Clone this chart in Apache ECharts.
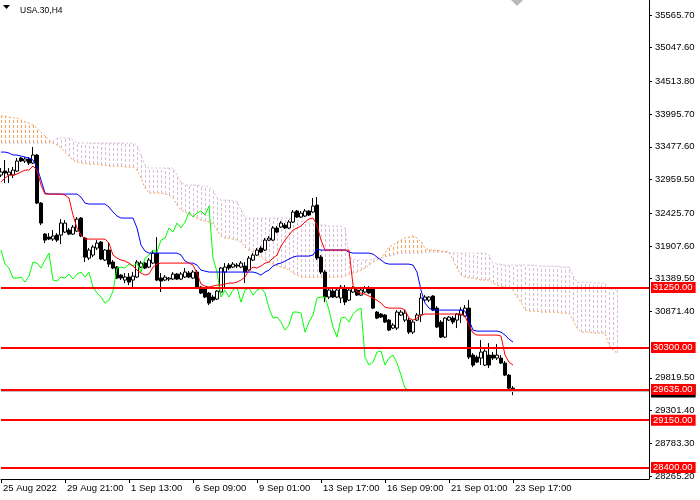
<!DOCTYPE html>
<html>
<head>
<meta charset="utf-8">
<script src="https://cdn.jsdelivr.net/npm/echarts@6/dist/echarts.min.js"></script>
<style>
html,body{margin:0;padding:0;background:#fff;}
#chart{width:700px;height:500px;}
</style>
</head>
<body>
<div id="chart"></div>
<script>
// ---- data (USA.30, H4) ----
const chartTitle = 'USA.30,H4';
const xTickLabels = ['25 Aug 2022','29 Aug 21:00','1 Sep 13:00','6 Sep 09:00','9 Sep 01:00','13 Sep 17:00','16 Sep 09:00','21 Sep 01:00','23 Sep 17:00'];
const barsPerTickLabel = 16;
const totalSlots = 163;
const yTickValues = [35565.70,35047.60,34513.80,33995.70,33477.60,32959.50,32425.70,31907.60,31389.50,30871.40,29819.50,29301.40,28783.30,28265.20];
const yMin = 28218;
const yMax = 35803;
const levelLines = [31250.00,30300.00,29635.00,29150.00,28400.00];
const bidPrice = 29612;

const opens = [33031,33094,33031,33031,33094,33300,33253,33285,33221,33348,
32587,32097,32049,32017,32081,32081,32128,32160,32096,32144,
32350,32033,31716,31764,31875,31970,31685,31843,31653,31574,
31447,31368,31416,31368,31416,31574,31637,31574,31637,31795,
31400,31368,31384,31384,31463,31384,31416,31479,31400,31495,
31257,31241,31162,31099,31067,31178,31495,31605,31574,31605,
31574,31590,31526,31685,31764,31875,31843,32001,32001,32192,
32207,32239,32192,32287,32461,32366,32382,32461,32445,32556,
31732,31495,31099,31194,31099,31083,31226,31051,31178,31210,
31130,31178,31241,31226,30861,30830,30814,30734,30608,30608,
30814,30734,30734,30544,30734,30814,31051,31051,31115,30924,
30703,30465,30734,30766,30734,30814,30798,30924,30180,30148,
30133,30022,30180,30180,30133,30133,30053,29863,29657];
const closes = [33079,33063,33079,33110,33253,33253,33285,33221,33348,32587,
32271,32001,32017,32065,32001,32271,32271,32096,32207,32334,
32065,31732,31843,31891,31954,31701,31843,31621,31558,31400,
31400,31416,31336,31431,31653,31637,31558,31685,31795,31368,
31352,31416,31400,31463,31384,31463,31495,31416,31495,31257,
31162,31099,31003,31051,31194,31558,31574,31558,31621,31590,
31637,31495,31716,31764,31843,31811,32001,32033,32192,32128,
32271,32192,32287,32445,32366,32429,32461,32398,32540,31716,
31495,31099,31210,31099,31210,31257,31019,31210,31241,31130,
31210,31241,31162,30924,30766,30782,30703,30576,30655,30861,
30861,30845,30544,30703,30814,31083,31099,31099,30893,30624,
30465,30766,30782,30703,30830,30893,30924,30148,30022,30069,
30228,30243,30022,30133,30180,30053,29863,29657,29625];
const lows = [32999,32904,32904,32984,33079,33237,33221,33189,33205,32571,
32239,31954,32001,31986,31970,31938,32112,32081,32081,32128,
32049,31653,31685,31732,31843,31685,31669,31574,31542,31384,
31368,31320,31289,31241,31400,31558,31542,31558,31621,31352,
31178,31352,31352,31368,31368,31368,31400,31400,31384,31241,
31146,31083,30972,31019,31051,31162,31257,31526,31558,31558,
31558,31320,31510,31669,31748,31795,31827,31986,31986,32112,
32192,32176,32176,32271,32350,32350,32366,32382,32429,31685,
31463,31019,31067,31083,31083,31003,30972,31035,31162,31115,
31115,31162,31146,30908,30750,30766,30687,30560,30592,30576,
30798,30703,30513,30513,30718,30703,31035,31019,30877,30608,
30449,30449,30718,30671,30608,30687,30782,30117,29990,30053,
30022,30006,29974,30101,30101,30038,29847,29641,29546];
const highs = [33142,33269,33142,33158,33300,33316,33316,33316,33475,33364,
32603,32112,32112,32160,32112,32334,32318,32192,32239,32366,
32366,32049,31875,31922,32001,31986,31859,31954,31685,31590,
31463,31479,31479,31495,31685,31669,31653,31716,31843,32049,
31479,31447,31416,31495,31479,31495,31558,31511,31526,31526,
31273,31257,31178,31130,31210,31574,31637,31637,31653,31637,
31669,31653,31748,31795,31875,31907,32033,32065,32223,32223,
32302,32271,32318,32477,32477,32461,32492,32477,32667,32682,
31764,31526,31241,31226,31241,31289,31289,31241,31273,31241,
31241,31273,31273,31257,30877,30845,30830,30750,30687,30893,
30893,30893,30766,30734,30845,31162,31130,31115,31130,30956,
30734,30782,30798,30798,30845,30940,30972,31051,30211,30180,
30417,30275,30370,30228,30354,30180,30085,29879,29689];

const tenkanSen = [32920,32984,33031,33031,33047,33079,33110,33110,33174,33110,
32873,32730,32730,32730,32730,32730,32714,32667,32397,32192,
32081,32017,32017,32017,32017,32017,32017,31954,31764,31716,
31685,31669,31637,31590,31526,31479,31447,31463,31574,31621,
31637,31637,31637,31637,31637,31637,31637,31637,31605,31479,
31305,31273,31257,31273,31289,31289,31305,31320,31320,31336,
31368,31416,31526,31574,31558,31590,31637,31653,31716,31764,
31907,32001,32081,32160,32192,32223,32287,32334,32350,32239,
32001,31843,31843,31843,31843,31843,31843,31843,31289,31178,
31162,31146,31115,31083,31051,31003,30940,30924,30924,30924,
30924,30893,30766,30734,30766,30814,30830,30830,30830,30830,
30830,30830,30830,30830,30830,30830,30798,30655,30529,30497,
30497,30497,30497,30497,30497,30481,30180,30069,30022];
const kijunSen = [33395,33395,33380,33348,33348,33332,33316,33300,33269,33158,
32952,32746,32730,32730,32730,32730,32730,32730,32730,32730,
32682,32587,32572,32572,32572,32572,32572,32524,32445,32382,
32350,32350,32350,32350,32192,31922,31827,31795,31795,31795,
31795,31795,31795,31795,31795,31764,31669,31637,31637,31605,
31526,31510,31495,31495,31495,31495,31495,31495,31495,31495,
31495,31495,31495,31495,31479,31447,31495,31526,31590,31621,
31637,31669,31701,31732,31748,31748,31748,31748,31764,31859,
31843,31843,31843,31843,31843,31843,31843,31811,31795,31795,
31795,31795,31795,31780,31732,31685,31637,31621,31621,31621,
31621,31621,31621,31605,31495,31209,31003,30924,30893,30893,
30893,30893,30893,30893,30893,30893,30877,30734,30576,30560,
30560,30560,30560,30560,30560,30544,30497,30433,30386];
const senkouSpanA = [33966,33966,33950,33934,33934,33902,33871,33855,33823,33776,
33712,33649,33585,33538,33506,33459,33395,33332,33269,33237,
33221,33221,33205,33205,33205,33189,33189,33174,33174,33174,
33174,33158,33158,33158,33110,32984,32825,32746,32746,32746,
32746,32730,32714,32667,32556,32477,32445,32413,32382,32350,
32318,32302,32287,32255,32160,32065,32033,32033,32017,32001,
31970,31891,31843,31811,31764,31732,31685,31653,31621,31590,
31574,31558,31526,31479,31447,31416,31416,31416,31416,31416,
31416,31416,31416,31416,31416,31416,31431,31463,31479,31495,
31526,31558,31605,31653,31685,31716,31795,31891,31922,31970,
32001,32033,32049,32065,32033,31970,31875,31843,31843,31843,
31827,31827,31811,31685,31558,31447,31416,31400,31400,31384,
31368,31368,31368,31320,31289,31273,31257,31241,31209,31099,
31019,30893,30877,30877,30877,30861,30861,30861,30861,30861,
30845,30845,30845,30734,30608,30544,30544,30544,30529,30529,
30529,30529,30338,30259,30212];
const senkouSpanB = [33538,33538,33538,33538,33538,33538,33538,33538,33538,33538,
33538,33538,33538,33570,33617,33617,33617,33617,33585,33538,
33538,33538,33538,33538,33538,33538,33538,33538,33538,33538,
33538,33538,33538,33538,33506,33348,33189,33142,33142,33142,
33142,33142,33142,33142,33031,32920,32873,32873,32873,32873,
32857,32857,32841,32793,32667,32635,32635,32635,32619,32603,
32477,32350,32350,32350,32350,32350,32350,32350,32350,32350,
32350,32350,32350,32334,32318,32302,32287,32271,32255,32255,
32239,32239,32223,32223,32223,32223,32192,31732,31701,31685,
31685,31685,31685,31701,31716,31716,31732,31748,31764,31780,
31795,31795,31795,31795,31795,31795,31811,31811,31811,31811,
31811,31811,31795,31795,31795,31795,31795,31795,31795,31795,
31795,31795,31764,31637,31621,31621,31605,31605,31605,31605,
31605,31605,31605,31605,31590,31590,31590,31590,31590,31590,
31574,31574,31574,31447,31336,31336,31336,31336,31320,31320,
31320,31320,31241,31209,31209];
const chikouShift = 26;

// ---- build ----
const categories = [];
for (let i = 0; i < totalSlots; i++) {
  const k = i / barsPerTickLabel;
  categories.push(Number.isInteger(k) && k < xTickLabels.length ? xTickLabels[k] : '');
}
const candleData = opens.map((o, i) => [o, closes[i], lows[i], highs[i]]);
const chikouSpan = closes.slice(chikouShift);
const showNamed = (idx, val) => val !== '';

// Kumo hatching: one vertical dashed segment per bar between Span A and Span B,
// split into "up" (A above B) and "down" (B above A) so each is coloured by its own series.
const kumoUp = [], kumoDown = [];
senkouSpanA.forEach((a, i) => {
  const b = senkouSpanB[i];
  if (a > b) kumoUp.push([i, b, a]); else kumoDown.push([i, a, b]);
});

const FONT = 'Liberation Sans, Arial, sans-serif';
const HATCH_UP = '#F4A460';
const HATCH_DOWN = '#D8BFD8';
const chart = echarts.init(document.getElementById('chart'), null, {renderer: 'canvas'});

function hatchSeries(name, data, color) {
  return {
    name: name, type: 'custom', z: 1, silent: true, color: color,
    itemStyle: {color: color, borderColor: color},
    data: data, encode: {x: 0, y: [1, 2]},
    renderItem: function (params, api) {
      const p1 = api.coord([api.value(0), api.value(1)]);
      const p2 = api.coord([api.value(0), api.value(2)]);
      const x = Math.round(p1[0]) + 0.5;
      return {
        type: 'line',
        shape: {x1: x, y1: Math.round(p1[1]), x2: x, y2: Math.round(p2[1])},
        style: {stroke: color, lineWidth: 1, lineDash: [3, 2]}
      };
    }
  };
}

const levelMarks = [{
  yAxis: bidPrice,
  lineStyle: {color: '#C0C0C0', width: 1, type: 'solid'},
  label: {backgroundColor: '#000000', color: '#000000', lineHeight: 12, padding: [1, 3, 0, 2]}
}].concat(levelLines.map(v => ({yAxis: v})));

const option = {
  animation: false,
  backgroundColor: '#ffffff',
  textStyle: {fontFamily: FONT},
  title: {
    text: chartTitle, left: 15, top: 1,
    textStyle: {fontSize: 8.5, fontWeight: 'normal', color: '#000000', fontFamily: FONT}
  },
  graphic: [
    {type: 'polygon', shape: {points: [[3, 5], [10, 5], [6.5, 9]]}, style: {fill: '#000'}, z: 20},
    {type: 'polygon', shape: {points: [[511, 0], [523, 0], [517, 6]]}, style: {fill: '#B8B8B8'}, z: 20}
  ],
  grid: {left: 0, top: 0, right: 51, bottom: 21, containLabel: false},
  xAxis: {
    type: 'category', data: categories, boundaryGap: false,
    axisLine: {show: true, lineStyle: {color: '#000', width: 1}},
    axisTick: {show: true, interval: showNamed, length: 4, lineStyle: {color: '#000'}},
    axisLabel: {interval: showNamed, align: 'left', color: '#000', fontSize: 9.5, margin: 4, padding: [0, 0, 0, 2], hideOverlap: false},
    splitLine: {show: false}
  },
  yAxis: {
    type: 'value', position: 'right', min: yMin, max: yMax,
    axisLine: {show: true, lineStyle: {color: '#000', width: 1}},
    axisTick: {show: true, length: 3, customValues: yTickValues, lineStyle: {color: '#000'}},
    axisLabel: {customValues: yTickValues, formatter: v => Number(v).toFixed(2), color: '#000', fontSize: 9.5, margin: 6},
    splitLine: {show: false}
  },
  series: [
    hatchSeries('Kumo up', kumoUp, HATCH_UP),
    hatchSeries('Kumo down', kumoDown, HATCH_DOWN),
    {name: 'Senkou Span A', type: 'line', z: 2, data: senkouSpanA, showSymbol: false, silent: true,
     lineStyle: {color: HATCH_UP, width: 1, type: [2, 2]}},
    {name: 'Senkou Span B', type: 'line', z: 2, data: senkouSpanB, showSymbol: false, silent: true,
     lineStyle: {color: HATCH_DOWN, width: 1, type: [2, 2]}},
    {
      name: chartTitle, type: 'candlestick', z: 3, data: candleData, barWidth: 3, silent: true,
      itemStyle: {color: '#FFFFFF', color0: '#000000', borderColor: '#000000', borderColor0: '#000000', borderWidth: 1}
    },
    {name: 'Chikou Span', type: 'line', z: 4, data: chikouSpan, showSymbol: false, silent: true,
     lineStyle: {color: '#00FF00', width: 1}},
    {name: 'Kijun-sen', type: 'line', z: 4, data: kijunSen, showSymbol: false, silent: true,
     lineStyle: {color: '#0000FF', width: 1}},
    {name: 'Tenkan-sen', type: 'line', z: 5, data: tenkanSen, showSymbol: false, silent: true,
     lineStyle: {color: '#FF0000', width: 1},
     markLine: {
       silent: true, symbol: ['none', 'none'], animation: false,
       lineStyle: {color: '#FF0000', width: 2, type: 'solid'},
       label: {
         show: true, position: 'end', distance: 2,
         formatter: p => Number(p.value).toFixed(2),
         color: '#FFFFFF', backgroundColor: '#FF0000', fontSize: 9.5, fontFamily: FONT,
         lineHeight: 10, padding: [1, 3, 0, 2]
       },
       data: levelMarks
     }
    }
  ]
};
chart.setOption(option);
</script>
</body>
</html>
